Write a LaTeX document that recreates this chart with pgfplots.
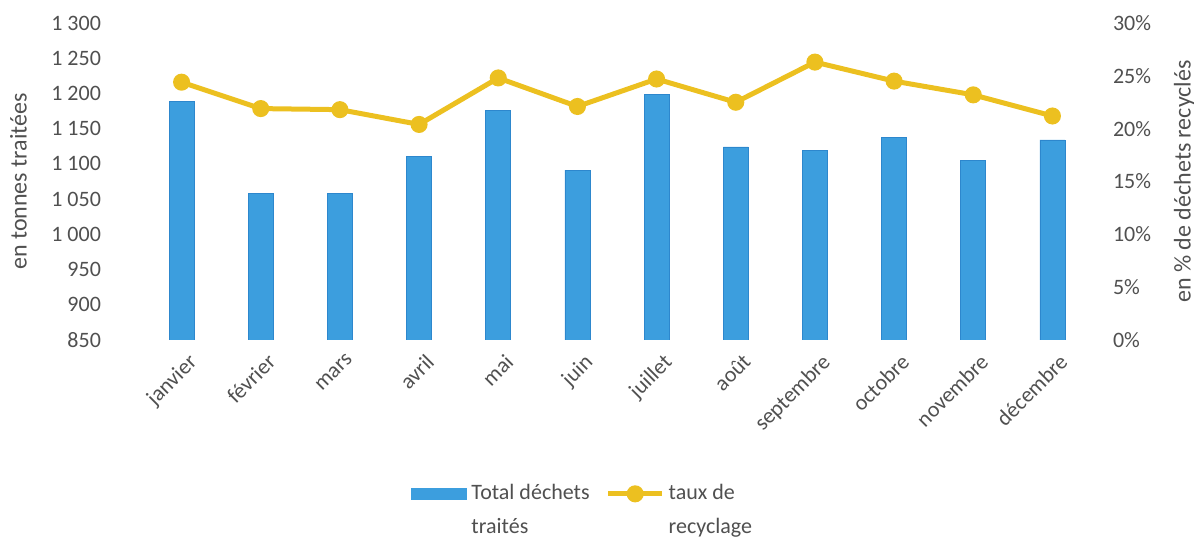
\documentclass[border=0pt]{standalone}
\usepackage{fontspec}
\setmainfont{Carlito}
\usepackage{pgfplots}
\pgfplotsset{compat=1.18}
\definecolor{barblue}{RGB}{60,158,222}
\definecolor{baredge}{RGB}{45,135,205}
\definecolor{lineyellow}{RGB}{236,192,32}
\definecolor{textgray}{RGB}{80,80,80}

\pgfplotsset{
  base/.style={
    scale only axis, width=475pt, height=158.5pt,
    xmin=-0.5, xmax=11.5,
    axis line style={draw=none},
    major tick style={draw=none},
    tick label style={font=\fontsize{11}{13}\selectfont, text=textgray},
    label style={font=\fontsize{12}{14}\selectfont, text=textgray},
    /pgf/number format/assume math mode=true,
  },
}

\begin{document}
\begin{tikzpicture}
\begin{axis}[base, name=main,
  ybar, bar width=12.5pt,
  ymin=850, ymax=1300, ytick={850,900,...,1300},
  axis y line*=left, axis x line*=bottom,
  /pgf/number format/1000 sep={\ },
  yticklabel style={xshift=-17pt},
  xtick={0,...,11},
  xticklabels={janvier,février,mars,avril,mai,juin,juillet,août,septembre,octobre,novembre,décembre},
  xticklabel style={rotate=45, anchor=north east, xshift=4pt},
  ylabel={en tonnes traitées},
  ylabel style={at={(axis description cs:-0.13,0.5)}, anchor=center},
  legend columns=2,
  legend style={at={(0.465,-0.43)}, anchor=north, draw=none,
    font=\fontsize{11}{17}\selectfont, text=textgray,
    cells={align=left},
    /tikz/every even column/.append style={column sep=6pt}},
  legend cell align=left,
]
\addplot[fill=barblue, draw=baredge,
  legend image code/.code={\draw[fill=barblue,draw=none] (0pt,5.5pt) rectangle (28pt,11.5pt);}]
  coordinates {(0,1188) (1,1058) (2,1058) (3,1110) (4,1176) (5,1091)
               (6,1198) (7,1124) (8,1119) (9,1137) (10,1105) (11,1134)};
\addlegendentry{Total déchets\\traités}
\addlegendimage{lineyellow, line width=2.5pt,
  legend image code/.code={\draw[lineyellow, line width=2.5pt] (0pt,8.5pt) -- (27pt,8.5pt);
    \fill[lineyellow] (13.5pt,8.5pt) circle (3pt);}}
\addlegendentry{taux de\\recyclage}
\end{axis}
\begin{axis}[base,
  ymin=0, ymax=30, ytick={0,5,...,30},
  axis y line*=right, axis x line=none,
  yticklabel={\pgfmathprintnumber{\tick}\%},
  yticklabel style={xshift=7pt},
  ylabel={en \% de déchets recyclés},
  ylabel style={at={(axis description cs:1.097,0.5)}, anchor=center},
]
\addplot[lineyellow, line width=2.5pt, mark=*, mark size=3pt,
  mark options={fill=lineyellow, draw=lineyellow}]
  coordinates {(0,24.4) (1,21.9) (2,21.8) (3,20.4) (4,24.8) (5,22.1)
               (6,24.7) (7,22.5) (8,26.3) (9,24.5) (10,23.2) (11,21.2)};
\end{axis}
\pgfresetboundingbox
\path[use as bounding box] ([xshift=-71pt,yshift=-100pt]main.south west)
  rectangle ([xshift=51pt,yshift=11.5pt]main.north east);
\end{tikzpicture}
\end{document}
